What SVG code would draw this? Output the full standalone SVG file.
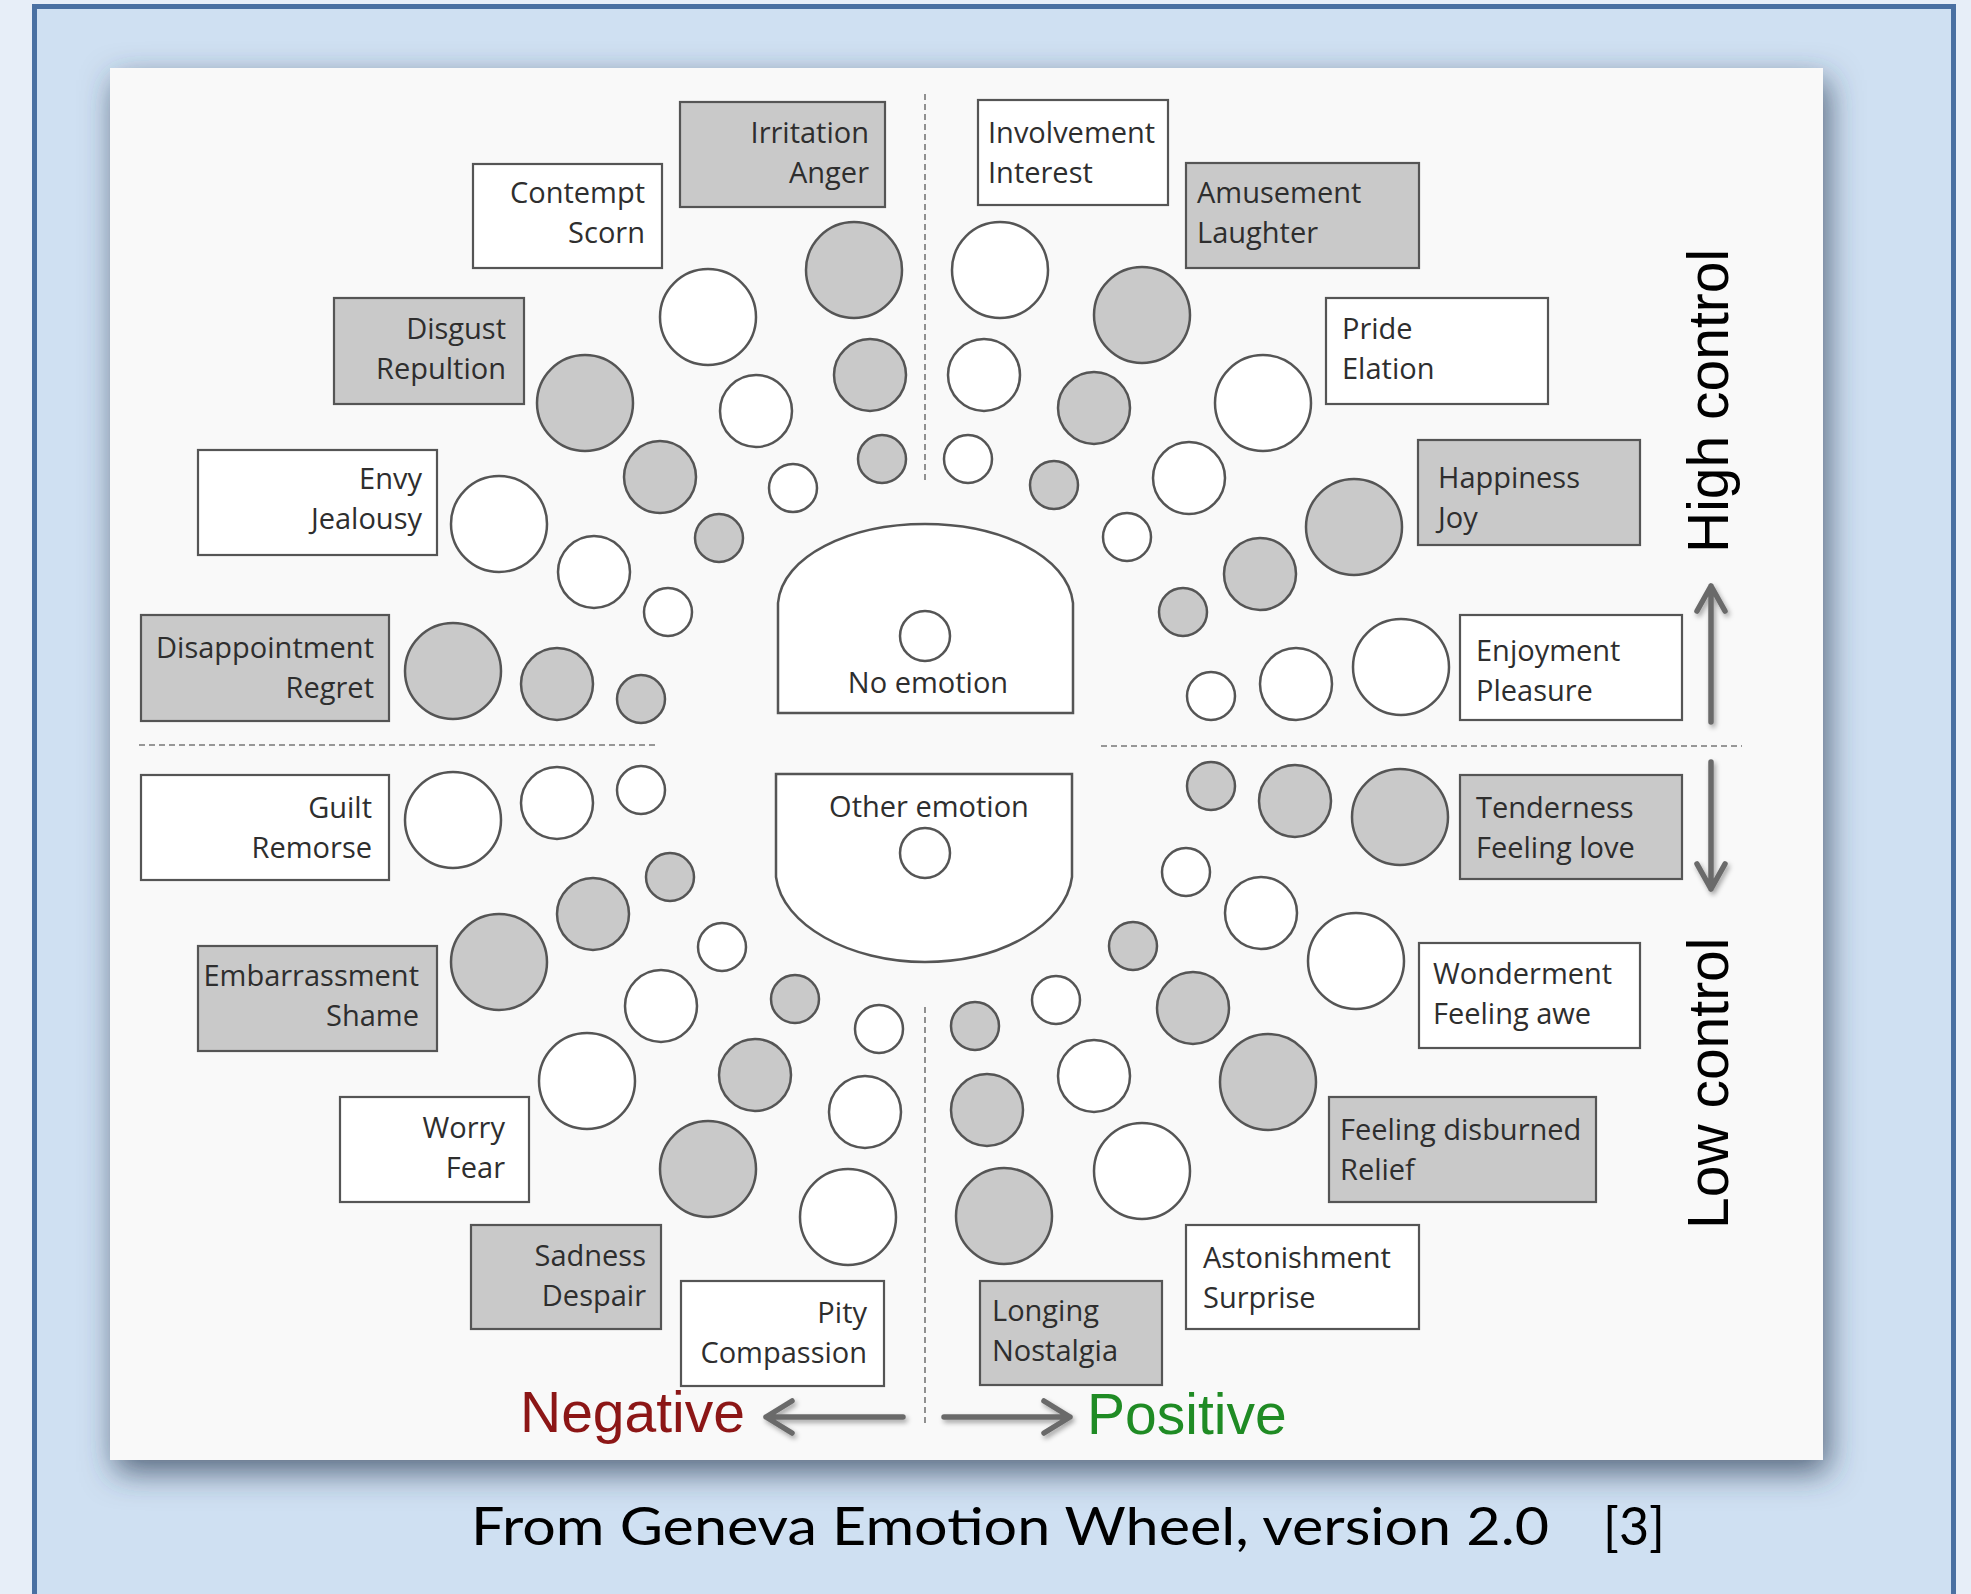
<svg xmlns="http://www.w3.org/2000/svg" width="1971" height="1594" viewBox="0 0 1971 1594">
<defs>
<style>
.bg{fill:#e7eef8}
.frame{fill:#cfe0f2;stroke:#4a70a2;stroke-width:5}
.panel{fill:#f9f9f9}
.bx{stroke:#555;stroke-width:2.2}
.g{fill:#c9c9c9}
.w{fill:#ffffff}
.c{stroke:#555;stroke-width:2.5}
.lbl{font-family:"Open Sans","Noto Sans",sans-serif;font-size:29px;fill:#2e2e2e}
.L{text-anchor:end}
.ctr{text-anchor:middle}
.dash{stroke:#777;stroke-width:1.6;stroke-dasharray:6 4;fill:none}
.arr{stroke:#6b6b6b;stroke-width:5.5;fill:none;stroke-linecap:round;stroke-linejoin:round}
.axis{font-family:"Liberation Sans",Arial,sans-serif;font-size:57px}
.cap{font-family:Lato,"Open Sans",sans-serif;font-size:52px;fill:#000}
</style>
<filter id="sh" x="-10%" y="-10%" width="120%" height="125%">
<feGaussianBlur in="SourceAlpha" stdDeviation="16"/>
<feOffset dx="5" dy="12" result="b"/>
<feFlood flood-color="#2c3d55" flood-opacity="0.75"/>
<feComposite in2="b" operator="in"/>
<feMerge><feMergeNode/><feMergeNode in="SourceGraphic"/></feMerge>
</filter>
<filter id="ash" x="-50%" y="-50%" width="200%" height="200%">
<feGaussianBlur in="SourceAlpha" stdDeviation="2.5"/>
<feOffset dx="2" dy="3" result="b"/>
<feFlood flood-color="#000" flood-opacity="0.35"/>
<feComposite in2="b" operator="in"/>
<feMerge><feMergeNode/><feMergeNode in="SourceGraphic"/></feMerge>
</filter>
</defs>

<rect class="bg" x="0" y="0" width="1971" height="1594"/>
<rect class="frame" x="34.5" y="6.5" width="1919" height="1620"/>
<rect class="panel" x="110" y="68" width="1713" height="1392" filter="url(#sh)"/>

<g id="axes">
<line class="dash" x1="139" y1="745" x2="656" y2="745"/>
<line class="dash" x1="1101" y1="746" x2="1742" y2="746"/>
<line class="dash" x1="925" y1="94" x2="925" y2="480"/>
<line class="dash" x1="925" y1="1007" x2="925" y2="1424"/>
</g>

<g id="no-emotion">
<path class="c w" d="M778,713 V603 C782,556 850,524 925,524 C1000,524 1068,556 1073,603 V713 Z"/>
<circle class="c w" cx="925" cy="636" r="25"/>
<text class="lbl ctr" x="928" y="693">No emotion</text>
</g>

<g id="other-emotion">
<path class="c w" d="M776,774 H1072 V877 C1066,925 1000,962 925,962 C850,962 782,925 776,877 Z"/>
<circle class="c w" cx="925" cy="853" r="25"/>
<text class="lbl ctr" x="929" y="817">Other emotion</text>
</g>

<g id="irritation-anger">
<rect class="bx g" x="680" y="102" width="205" height="105"/>
<text class="lbl L" x="869" y="143">Irritation</text><text class="lbl L" x="869" y="183">Anger</text>
<circle class="c g" cx="854" cy="270" r="48"/><circle class="c g" cx="870" cy="375" r="36"/><circle class="c g" cx="882" cy="459" r="24"/>
</g>
<g id="contempt-scorn">
<rect class="bx w" x="473" y="164" width="189" height="104"/>
<text class="lbl L" x="645" y="203">Contempt</text><text class="lbl L" x="645" y="243">Scorn</text>
<circle class="c w" cx="708" cy="317" r="48"/><circle class="c w" cx="756" cy="411" r="36"/><circle class="c w" cx="793" cy="488" r="24"/>
</g>
<g id="disgust-repultion">
<rect class="bx g" x="334" y="298" width="190" height="106"/>
<text class="lbl L" x="506" y="339">Disgust</text><text class="lbl L" x="506" y="379">Repultion</text>
<circle class="c g" cx="585" cy="403" r="48"/><circle class="c g" cx="660" cy="477" r="36"/><circle class="c g" cx="719" cy="538" r="24"/>
</g>
<g id="envy-jealousy">
<rect class="bx w" x="198" y="450" width="239" height="105"/>
<text class="lbl L" x="422" y="489">Envy</text><text class="lbl L" x="422" y="529">Jealousy</text>
<circle class="c w" cx="499" cy="524" r="48"/><circle class="c w" cx="594" cy="572" r="36"/><circle class="c w" cx="668" cy="612" r="24"/>
</g>
<g id="disappointment-regret">
<rect class="bx g" x="141" y="615" width="248" height="106"/>
<text class="lbl L" x="374" y="658">Disappointment</text><text class="lbl L" x="374" y="698">Regret</text>
<circle class="c g" cx="453" cy="671" r="48"/><circle class="c g" cx="557" cy="684" r="36"/><circle class="c g" cx="641" cy="699" r="24"/>
</g>
<g id="guilt-remorse">
<rect class="bx w" x="141" y="775" width="248" height="105"/>
<text class="lbl L" x="372" y="818">Guilt</text><text class="lbl L" x="372" y="858">Remorse</text>
<circle class="c w" cx="453" cy="820" r="48"/><circle class="c w" cx="557" cy="803" r="36"/><circle class="c w" cx="641" cy="790" r="24"/>
</g>
<g id="embarrassment-shame">
<rect class="bx g" x="198" y="946" width="239" height="105"/>
<text class="lbl L" x="419" y="986">Embarrassment</text><text class="lbl L" x="419" y="1026">Shame</text>
<circle class="c g" cx="499" cy="962" r="48"/><circle class="c g" cx="593" cy="914" r="36"/><circle class="c g" cx="670" cy="877" r="24"/>
</g>
<g id="worry-fear">
<rect class="bx w" x="340" y="1097" width="189" height="105"/>
<text class="lbl L" x="505" y="1138">Worry</text><text class="lbl L" x="505" y="1178">Fear</text>
<circle class="c w" cx="587" cy="1081" r="48"/><circle class="c w" cx="661" cy="1006" r="36"/><circle class="c w" cx="722" cy="947" r="24"/>
</g>
<g id="sadness-despair">
<rect class="bx g" x="471" y="1225" width="190" height="104"/>
<text class="lbl L" x="646" y="1266">Sadness</text><text class="lbl L" x="646" y="1306">Despair</text>
<circle class="c g" cx="708" cy="1169" r="48"/><circle class="c g" cx="755" cy="1075" r="36"/><circle class="c g" cx="795" cy="999" r="24"/>
</g>
<g id="pity-compassion">
<rect class="bx w" x="681" y="1281" width="203" height="105"/>
<text class="lbl L" x="867" y="1323">Pity</text><text class="lbl L" x="867" y="1363">Compassion</text>
<circle class="c w" cx="848" cy="1217" r="48"/><circle class="c w" cx="865" cy="1112" r="36"/><circle class="c w" cx="879" cy="1029" r="24"/>
</g>
<g id="longing-nostalgia">
<rect class="bx g" x="980" y="1281" width="182" height="104"/>
<text class="lbl" x="992" y="1321">Longing</text><text class="lbl" x="992" y="1361">Nostalgia</text>
<circle class="c g" cx="1004" cy="1216" r="48"/><circle class="c g" cx="987" cy="1110" r="36"/><circle class="c g" cx="975" cy="1026" r="24"/>
</g>
<g id="astonishment-surprise">
<rect class="bx w" x="1186" y="1225" width="233" height="104"/>
<text class="lbl" x="1203" y="1268">Astonishment</text><text class="lbl" x="1203" y="1308">Surprise</text>
<circle class="c w" cx="1142" cy="1171" r="48"/><circle class="c w" cx="1094" cy="1076" r="36"/><circle class="c w" cx="1056" cy="1000" r="24"/>
</g>
<g id="feeling-disburned-relief">
<rect class="bx g" x="1329" y="1097" width="267" height="105"/>
<text class="lbl" x="1340" y="1140">Feeling disburned</text><text class="lbl" x="1340" y="1180">Relief</text>
<circle class="c g" cx="1268" cy="1082" r="48"/><circle class="c g" cx="1193" cy="1008" r="36"/><circle class="c g" cx="1133" cy="946" r="24"/>
</g>
<g id="wonderment-awe">
<rect class="bx w" x="1419" y="943" width="221" height="105"/>
<text class="lbl" x="1433" y="984">Wonderment</text><text class="lbl" x="1433" y="1024">Feeling awe</text>
<circle class="c w" cx="1356" cy="961" r="48"/><circle class="c w" cx="1261" cy="913" r="36"/><circle class="c w" cx="1186" cy="872" r="24"/>
</g>
<g id="tenderness-love">
<rect class="bx g" x="1460" y="775" width="222" height="104"/>
<text class="lbl" x="1476" y="818">Tenderness</text><text class="lbl" x="1476" y="858">Feeling love</text>
<circle class="c g" cx="1400" cy="817" r="48"/><circle class="c g" cx="1295" cy="801" r="36"/><circle class="c g" cx="1211" cy="786" r="24"/>
</g>
<g id="enjoyment-pleasure">
<rect class="bx w" x="1460" y="615" width="222" height="105"/>
<text class="lbl" x="1476" y="661">Enjoyment</text><text class="lbl" x="1476" y="701">Pleasure</text>
<circle class="c w" cx="1401" cy="667" r="48"/><circle class="c w" cx="1296" cy="684" r="36"/><circle class="c w" cx="1211" cy="696" r="24"/>
</g>
<g id="happiness-joy">
<rect class="bx g" x="1418" y="440" width="222" height="105"/>
<text class="lbl" x="1438" y="488">Happiness</text><text class="lbl" x="1438" y="528">Joy</text>
<circle class="c g" cx="1354" cy="527" r="48"/><circle class="c g" cx="1260" cy="574" r="36"/><circle class="c g" cx="1183" cy="612" r="24"/>
</g>
<g id="pride-elation">
<rect class="bx w" x="1326" y="298" width="222" height="106"/>
<text class="lbl" x="1342" y="339">Pride</text><text class="lbl" x="1342" y="379">Elation</text>
<circle class="c w" cx="1263" cy="403" r="48"/><circle class="c w" cx="1189" cy="478" r="36"/><circle class="c w" cx="1127" cy="537" r="24"/>
</g>
<g id="amusement-laughter">
<rect class="bx g" x="1186" y="163" width="233" height="105"/>
<text class="lbl" x="1197" y="203">Amusement</text><text class="lbl" x="1197" y="243">Laughter</text>
<circle class="c g" cx="1142" cy="315" r="48"/><circle class="c g" cx="1094" cy="408" r="36"/><circle class="c g" cx="1054" cy="485" r="24"/>
</g>
<g id="involvement-interest">
<rect class="bx w" x="978" y="100" width="190" height="105"/>
<text class="lbl" x="988" y="143">Involvement</text><text class="lbl" x="988" y="183">Interest</text>
<circle class="c w" cx="1000" cy="270" r="48"/><circle class="c w" cx="984" cy="375" r="36"/><circle class="c w" cx="968" cy="459" r="24"/>
</g>

<g id="connectors" filter="url(#ash)">
<path class="arr" d="M903,1417 H766 M792,1401 L766,1417 L792,1433"/>
<path class="arr" d="M944,1417 H1070 M1044,1401 L1070,1417 L1044,1433"/>
<path class="arr" d="M1711,722 V586 M1697,611 L1711,586 L1725,611"/>
<path class="arr" d="M1711,762 V889 M1697,864 L1711,889 L1725,864"/>
</g>

<g id="axis-labels">
<text class="axis" x="520" y="1432" fill="#8c1616">Negative</text>
<text class="axis" x="1087" y="1434" fill="#1f8b24">Positive</text>
<text class="axis" fill="#000" transform="translate(1728,553) rotate(-90)">High control</text>
<text class="axis" fill="#000" transform="translate(1728,1229) rotate(-90)">Low control</text>
</g>

<g id="caption">
<text class="cap" x="471" y="1545" textLength="1078" lengthAdjust="spacingAndGlyphs">From Geneva Emotion Wheel, version 2.0</text>
<text class="cap" x="1603" y="1545">[3]</text>
</g>
</svg>
